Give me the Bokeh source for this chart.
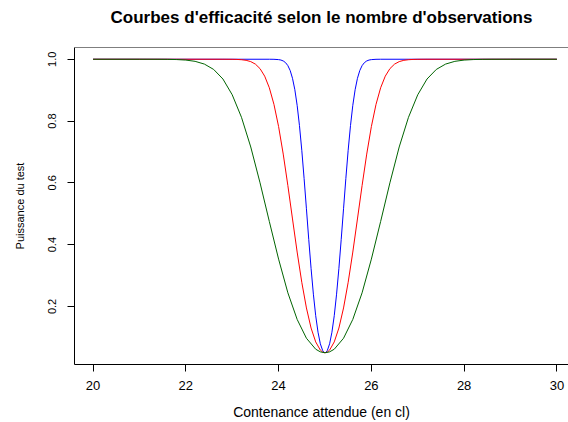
from bokeh.plotting import figure
from bokeh.models import Range1d, FixedTicker, PrintfTickFormatter, Span, Title
from bokeh.embed import file_html
from bokeh.resources import INLINE

# n = 100 (bleu)
x_bleu = [20.0, 23.8, 23.9, 24.0, 24.05, 24.1, 24.15, 24.2, 24.25, 24.3, 24.35, 24.4, 24.45, 24.5,
          24.55, 24.6, 24.65, 24.7, 24.75, 24.8, 24.85, 24.9, 24.95, 24.975, 25.0,
          25.025, 25.05, 25.1, 25.15, 25.2, 25.25, 25.3, 25.35, 25.4, 25.45, 25.5, 25.55, 25.6,
          25.65, 25.7, 25.75, 25.8, 25.85, 25.9, 25.95, 26.0, 26.1, 26.2, 30.0]
y_bleu = [1.0, 1.0, 0.9998, 0.9988, 0.9974, 0.9945, 0.989, 0.9793, 0.9633, 0.9382, 0.9015, 0.8508,
          0.7852, 0.7054, 0.6141, 0.516, 0.417, 0.3231, 0.2396, 0.170, 0.1165, 0.079, 0.0572, 0.0518, 0.05,
          0.0518, 0.0572, 0.079, 0.1165, 0.170, 0.2396, 0.3231, 0.417, 0.516, 0.6141, 0.7054, 0.7852,
          0.8508, 0.9015, 0.9382, 0.9633, 0.9793, 0.989, 0.9945, 0.9974, 0.9988, 0.9998, 1.0, 1.0]

# n = 30 (rouge)
x_rouge = [20.0, 22.8, 23.0, 23.1, 23.2, 23.3, 23.4, 23.5, 23.6, 23.7, 23.8, 23.9, 24.0, 24.1, 24.2,
           24.3, 24.4, 24.5, 24.6, 24.7, 24.8, 24.9, 24.95, 25.0,
           25.05, 25.1, 25.2, 25.3, 25.4, 25.5, 25.6, 25.7, 25.8, 25.9, 26.0, 26.1, 26.2, 26.3, 26.4,
           26.5, 26.6, 26.7, 26.8, 26.9, 27.0, 27.2, 30.0]
y_rouge = [1.0, 1.0, 0.9998, 0.9994, 0.9985, 0.9965, 0.9923, 0.9842, 0.9696, 0.9453, 0.9077, 0.8538,
           0.782, 0.693, 0.591, 0.483, 0.376, 0.278, 0.195, 0.130, 0.0851, 0.0586, 0.0522, 0.05,
           0.0522, 0.0586, 0.0851, 0.130, 0.195, 0.278, 0.376, 0.483, 0.591, 0.693, 0.782, 0.8538,
           0.9077, 0.9453, 0.9696, 0.9842, 0.9923, 0.9965, 0.9985, 0.9994, 0.9998, 1.0, 1.0]

# n = 10 (vert)
x_vert = [20.0, 21.0, 21.4, 21.6, 21.8, 22.0, 22.2, 22.4, 22.6, 22.8, 23.0, 23.2, 23.4, 23.6, 23.8,
          24.0, 24.2, 24.4, 24.6, 24.8, 24.9, 25.0,
          25.1, 25.2, 25.4, 25.6, 25.8, 26.0, 26.2, 26.4, 26.6, 26.8, 27.0, 27.2, 27.4, 27.6, 27.8,
          28.0, 28.2, 28.4, 28.6, 29.0, 30.0]
y_vert = [1.0, 1.0, 0.9999, 0.9997, 0.999, 0.9973, 0.9932, 0.9843, 0.967, 0.936, 0.885, 0.812, 0.716,
          0.600, 0.475, 0.353, 0.244, 0.158, 0.097, 0.0615, 0.0529, 0.05,
          0.0529, 0.0615, 0.097, 0.158, 0.244, 0.353, 0.475, 0.600, 0.716, 0.812, 0.885, 0.936, 0.967,
          0.9843, 0.9932, 0.9973, 0.999, 0.9997, 0.9999, 1.0, 1.0]

x_ticks = [20, 22, 24, 26, 28, 30]
y_ticks = [0.2, 0.4, 0.6, 0.8, 1.0]

titre = "Courbes d'efficacité selon le nombre d'observations"
titre_x = "Contenance attendue (en cl)"
titre_y = "Puissance du test"

FONT = "Liberation Sans"

p = figure(width=568, height=422, output_backend="svg", toolbar_location=None,
           x_range=Range1d(19.6, 30.25), y_range=Range1d(0.012, 1.038),
           min_border_left=74, min_border_right=0, min_border_top=47, min_border_bottom=57)

p.title.text = ""

# espace entre le cadre et le titre (ajouté en premier : le plus proche du cadre)
p.add_layout(Title(text="\u00a0", text_font=FONT, text_font_size="10px", standoff=8), "above")
p.add_layout(Title(text=titre, align="center", offset=3, standoff=0, text_font=FONT,
                   text_font_size="17px", text_font_style="bold", text_color="black"), "above")

p.grid.visible = False
p.outline_line_color = None
p.background_fill_color = "white"
p.border_fill_color = "white"

p.line(x_bleu, y_bleu, line_color="#0000FF", line_width=1)
p.line(x_rouge, y_rouge, line_color="#FF0000", line_width=1)
p.line(x_vert, y_vert, line_color="#006400", line_width=1)

p.add_layout(Span(location=1.038, dimension="width", line_color="black", line_width=1))

for ax in (p.xaxis[0], p.yaxis[0]):
    ax.axis_line_color = "black"
    ax.axis_line_width = 1
    ax.major_tick_out = 7
    ax.major_tick_in = 0
    ax.minor_tick_line_color = None
    ax.major_tick_line_color = "black"
    ax.major_label_text_font = FONT
    ax.major_label_text_color = "black"
    ax.axis_label_text_font = FONT
    ax.axis_label_text_font_style = "normal"
    ax.axis_label_text_color = "black"

p.xaxis.ticker = FixedTicker(ticks=x_ticks)
p.xaxis.formatter = PrintfTickFormatter(format="%d")
p.xaxis.axis_label = titre_x
p.xaxis.major_label_text_font_size = "13px"
p.xaxis.axis_label_text_font_size = "14px"
p.xaxis.major_label_standoff = 9
p.xaxis.axis_label_standoff = 11

p.yaxis.ticker = FixedTicker(ticks=y_ticks)
p.yaxis.formatter = PrintfTickFormatter(format="%.1f")
p.yaxis.axis_label = titre_y
p.yaxis.major_label_orientation = "vertical"
p.yaxis.major_label_text_font_size = "11px"
p.yaxis.axis_label_text_font_size = "11px"
p.yaxis.major_label_standoff = 11
p.yaxis.axis_label_standoff = 20

open("out.html", "w").write(file_html(p, INLINE))
